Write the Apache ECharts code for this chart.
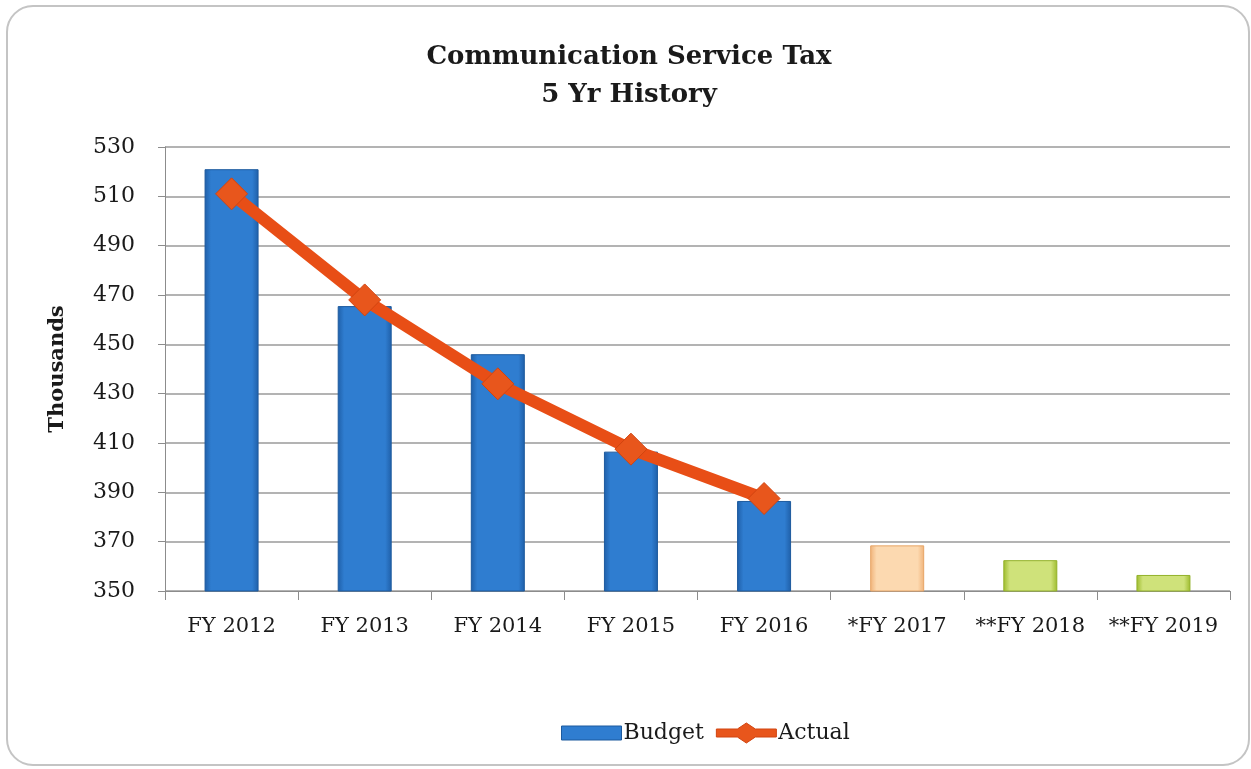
<!DOCTYPE html>
<html>
<head>
<meta charset="utf-8">
<script src="https://cdn.jsdelivr.net/npm/echarts@6/dist/echarts.min.js"></script>
<style>
  html, body { margin: 0; padding: 0; background: #fff; }
  #chart { width: 1251px; height: 769px; }
</style>
</head>
<body>
<div id="chart"></div>
<script>
// Fiscal years (a leading * marks an estimate, ** a projection)
const categories = ['FY 2012', 'FY 2013', 'FY 2014', 'FY 2015', 'FY 2016', '*FY 2017', '**FY 2018', '**FY 2019'];
// Budgeted revenue, thousands
const budget = [521, 465.5, 446, 406.5, 386.5, 368.5, 362.5, 356.5];
// Actual revenue, thousands
const actual = [511, 468, 434, 407.5, 387.5];
// Value axis ticks
const yMin = 350, yMax = 530, yStep = 20;

const FONT = '"DejaVu Serif", "Liberation Serif", serif';

function barGradient(edge, mid) {
  return new echarts.graphic.LinearGradient(0, 0, 1, 0, [
    { offset: 0, color: edge },
    { offset: 0.12, color: mid },
    { offset: 0.88, color: mid },
    { offset: 1, color: edge }
  ]);
}

const styles = {
  budget: { color: barGradient('#1f5fa8', '#2f7dd0'), borderColor: '#1d5a9e', borderWidth: 1 },
  estimate: { color: barGradient('#f0b278', '#fcd9b0'), borderColor: '#e7a466', borderWidth: 1 },
  projection: { color: barGradient('#9dbb2c', '#cfe27a'), borderColor: '#93b12a', borderWidth: 1 }
};

function styleFor(label) {
  if (label.startsWith('**')) return styles.projection;
  if (label.startsWith('*')) return styles.estimate;
  return styles.budget;
}

const budgetData = budget.map((v, i) => ({ value: v, itemStyle: styleFor(categories[i]) }));

// Legend glyphs: a flat bar, and a thick line carrying a diamond marker
const ICON_BAR = 'path://M0,3 L60,3 L60,17 L0,17 Z';
const ICON_LINE = 'path://M0,6 L21,6 L30,0 L39,6 L60,6 L60,14 L39,14 L30,20 L21,14 L0,14 Z';

const chart = echarts.init(document.getElementById('chart'), null, { renderer: 'canvas' });

chart.setOption({
  backgroundColor: '#fff',
  animation: false,
  title: {
    text: 'Communication Service Tax\n5 Yr History',
    left: 624,
    textAlign: 'center',
    top: 33,
    textStyle: { fontFamily: FONT, fontWeight: 'bold', fontSize: 26, color: '#1a1a1a', lineHeight: 38 }
  },
  legend: {
    bottom: 20,
    left: 556,
    itemGap: 12,
    itemWidth: 60,
    itemHeight: 20,
    textStyle: { fontFamily: FONT, fontSize: 22, color: '#1a1a1a', padding: [0, 0, 0, -3] },
    data: [
      { name: 'Budget', icon: ICON_BAR, itemStyle: { color: '#2f7dd0', borderColor: '#1d5a9e', borderWidth: 1 } },
      { name: 'Actual', icon: ICON_LINE, itemStyle: { color: '#e8561c', borderColor: '#d14410', borderWidth: 1 } }
    ]
  },
  graphic: [{
    type: 'rect',
    shape: { x: 7, y: 6, width: 1242, height: 759, r: 26 },
    style: { fill: 'none', stroke: '#c4c4c4', lineWidth: 2 },
    silent: true
  }],
  grid: { left: 165, right: 21, top: 147, bottom: 178 },
  xAxis: {
    type: 'category',
    data: categories,
    axisLine: { lineStyle: { color: '#8c8c8c', width: 1 } },
    axisTick: { show: true, length: 9, lineStyle: { color: '#8c8c8c' } },
    axisLabel: { interval: 0, fontFamily: FONT, fontSize: 21, color: '#1a1a1a', margin: 25 }
  },
  yAxis: {
    type: 'value',
    min: yMin,
    max: yMax,
    interval: yStep,
    name: 'Thousands',
    nameLocation: 'middle',
    nameGap: 97,
    nameRotate: 90,
    nameTextStyle: { fontFamily: FONT, fontWeight: 'bold', fontSize: 21, color: '#1a1a1a' },
    axisLine: { show: true, lineStyle: { color: '#8c8c8c', width: 1 } },
    axisTick: { show: true, length: 7, lineStyle: { color: '#8c8c8c' } },
    axisLabel: { fontFamily: FONT, fontSize: 22, color: '#1a1a1a', margin: 30 },
    splitLine: { lineStyle: { color: '#9a9a9a', width: 1.5 } }
  },
  series: [
    {
      name: 'Budget',
      type: 'bar',
      barWidth: 54,
      data: budgetData,
      z: 2
    },
    {
      name: 'Actual',
      type: 'line',
      data: actual,
      symbol: 'diamond',
      symbolSize: [32, 32],
      itemStyle: { color: '#e8561c', borderColor: '#d14410', borderWidth: 1 },
      lineStyle: { color: '#e84e16', width: 12 },
      z: 3
    }
  ]
});
</script>
</body>
</html>
